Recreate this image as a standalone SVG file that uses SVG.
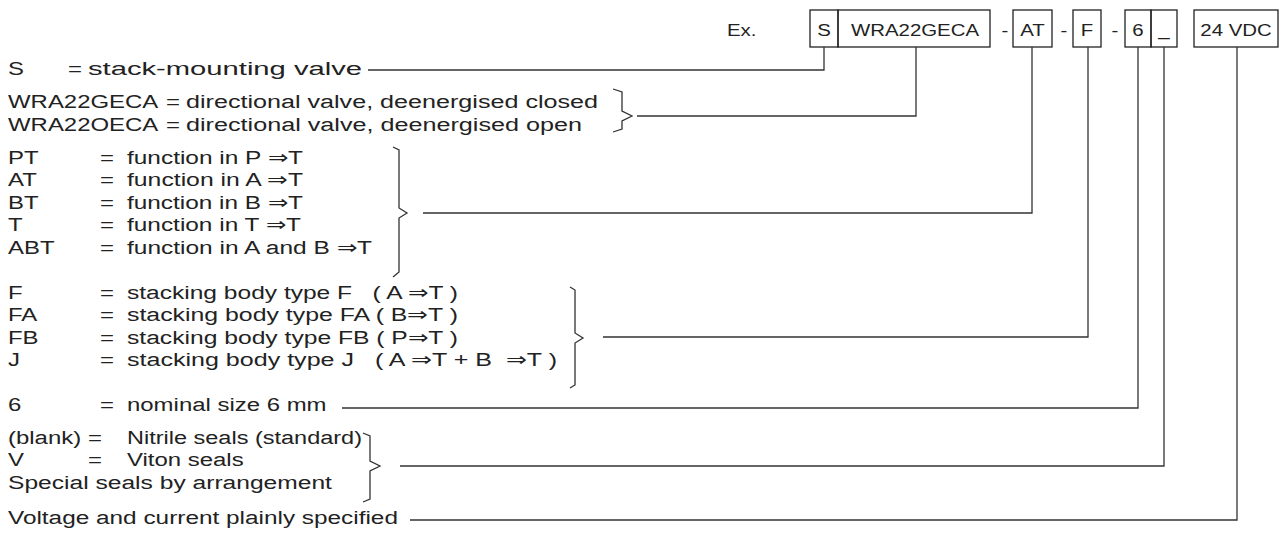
<svg xmlns="http://www.w3.org/2000/svg" width="1284" height="538" viewBox="0 0 1284 538">
<style>
.t{font-family:"Liberation Sans",Arial,sans-serif;font-size:19px;fill:#222}
.b{font-family:"Liberation Sans",Arial,sans-serif;font-size:17px;fill:#222}
.m{text-anchor:middle}
.box{fill:none;stroke:#222;stroke-width:1.3}
.ln{fill:none;stroke:#333;stroke-width:1.3}
</style>
<rect width="1284" height="538" fill="#fff"/>
<g id="code">
<rect class="box" x="810" y="10" width="28" height="37"/>
<rect class="box" x="838" y="10" width="152" height="37"/>
<rect class="box" x="1013" y="10" width="39" height="37"/>
<rect class="box" x="1073" y="10" width="28" height="37"/>
<rect class="box" x="1125" y="10" width="26" height="37"/>
<rect class="box" x="1151" y="10" width="26" height="37"/>
<rect class="box" x="1194" y="10" width="84" height="37"/>
<text class="b" transform="translate(727,36) scale(1.2,1)">Ex.</text>
<text class="b m" transform="translate(824,36) scale(1.2,1)">S</text>
<text class="b m" transform="translate(915,36) scale(1.2,1)">WRA22GECA</text>
<text class="b m" transform="translate(1005,36) scale(1.2,1)">-</text>
<text class="b m" transform="translate(1032.5,36) scale(1.2,1)">AT</text>
<text class="b m" transform="translate(1064,36) scale(1.2,1)">-</text>
<text class="b m" transform="translate(1087,36) scale(1.2,1)">F</text>
<text class="b m" transform="translate(1115,36) scale(1.2,1)">-</text>
<text class="b m" transform="translate(1138,36) scale(1.2,1)">6</text>
<text class="b m" transform="translate(1164,36) scale(1.2,1)">_</text>
<text class="b m" transform="translate(1236,36) scale(1.2,1)">24 VDC</text>
</g>
<g id="legend" transform="scale(1.26,1)">
<g id="row-s"><text class="t" x="6.35" y="75">S</text><text class="t" x="53.97" y="75">=</text><text class="t" x="69.84" y="75" textLength="217.5" lengthAdjust="spacingAndGlyphs">stack-mounting valve</text></g>
<g id="row-wra"><text class="t" x="6.35" y="108">WRA22GECA</text><text class="t" x="131.75" y="108">=</text><text class="t" x="147.62" y="108" textLength="327" lengthAdjust="spacingAndGlyphs">directional valve, deenergised closed</text>
<text class="t" x="6.35" y="131">WRA22OECA</text><text class="t" x="131.75" y="131">=</text><text class="t" x="147.62" y="131" textLength="314.3" lengthAdjust="spacingAndGlyphs">directional valve, deenergised open</text></g>
<g id="row-func">
<text class="t" x="6.35" y="164">PT</text><text class="t" x="79.37" y="164">=</text><text class="t" x="100.8" y="164" textLength="139.7" lengthAdjust="spacingAndGlyphs">function in P ⇒T</text>
<text class="t" x="6.35" y="186.5">AT</text><text class="t" x="79.37" y="186.5">=</text><text class="t" x="100.8" y="186.5" textLength="139.7" lengthAdjust="spacingAndGlyphs">function in A ⇒T</text>
<text class="t" x="6.35" y="209">BT</text><text class="t" x="79.37" y="209">=</text><text class="t" x="100.8" y="209" textLength="139.7" lengthAdjust="spacingAndGlyphs">function in B ⇒T</text>
<text class="t" x="6.35" y="231.5">T</text><text class="t" x="79.37" y="231.5">=</text><text class="t" x="100.8" y="231.5" textLength="138.1" lengthAdjust="spacingAndGlyphs">function in T ⇒T</text>
<text class="t" x="6.35" y="254">ABT</text><text class="t" x="79.37" y="254">=</text><text class="t" x="100.8" y="254" textLength="194.4" lengthAdjust="spacingAndGlyphs">function in A and B ⇒T</text>
</g>
<g id="row-body">
<text class="t" x="6.35" y="299">F</text><text class="t" x="79.37" y="299">=</text><text class="t" x="100.8" y="299" xml:space="preserve" textLength="262.7" lengthAdjust="spacingAndGlyphs">stacking body type F   ( A ⇒T )</text>
<text class="t" x="6.35" y="321.5">FA</text><text class="t" x="79.37" y="321.5">=</text><text class="t" x="100.8" y="321.5" xml:space="preserve" textLength="262.7" lengthAdjust="spacingAndGlyphs">stacking body type FA ( B⇒T )</text>
<text class="t" x="6.35" y="344">FB</text><text class="t" x="79.37" y="344">=</text><text class="t" x="100.8" y="344" xml:space="preserve" textLength="262.7" lengthAdjust="spacingAndGlyphs">stacking body type FB ( P⇒T )</text>
<text class="t" x="6.35" y="366.5">J</text><text class="t" x="79.37" y="366.5">=</text><text class="t" x="100.8" y="366.5" xml:space="preserve" textLength="341.3" lengthAdjust="spacingAndGlyphs">stacking body type J   ( A ⇒T + B  ⇒T )</text>
</g>
<g id="row-size"><text class="t" x="6.35" y="411">6</text><text class="t" x="79.37" y="411">=</text><text class="t" x="100.8" y="411">nominal size 6 mm</text></g>
<g id="row-seals">
<text class="t" x="6.35" y="444">(blank)</text><text class="t" x="69.84" y="444">=</text><text class="t" x="100.8" y="444" textLength="186.5" lengthAdjust="spacingAndGlyphs">Nitrile seals (standard)</text>
<text class="t" x="6.35" y="466.5">V</text><text class="t" x="69.84" y="466.5">=</text><text class="t" x="100.8" y="466.5">Viton seals</text>
<text class="t" x="6.35" y="489" textLength="257.1" lengthAdjust="spacingAndGlyphs">Special seals by arrangement</text>
</g>
<g id="row-volt"><text class="t" x="6.35" y="524" textLength="309.5" lengthAdjust="spacingAndGlyphs">Voltage and current plainly specified</text></g>
</g>
<g id="connectors">
<polyline class="ln" points="368,70 824,70 824,47"/>
<path class="ln" d="M613,89 L622,92 L622,111 L632,116 L622,121 L622,129 L613,132"/>
<polyline class="ln" points="637,116 916,116 916,47"/>
<path class="ln" d="M393,147 L399,150 L399,208 L407,213 L399,218 L399,272 L393,277"/>
<polyline class="ln" points="423,213 1032,213 1032,47"/>
<path class="ln" d="M570,287 L575,290 L575,333 L583,338 L575,343 L575,385 L570,388"/>
<polyline class="ln" points="603,337 1088,337 1088,47"/>
<polyline class="ln" points="342,408 1138,408 1138,47"/>
<path class="ln" d="M363,433 L370,436 L370,461 L380,466 L370,471 L370,499 L363,502"/>
<polyline class="ln" points="400,466 1164,466 1164,47"/>
<polyline class="ln" points="410,520 1237,520 1237,47"/>
</g>
</svg>
